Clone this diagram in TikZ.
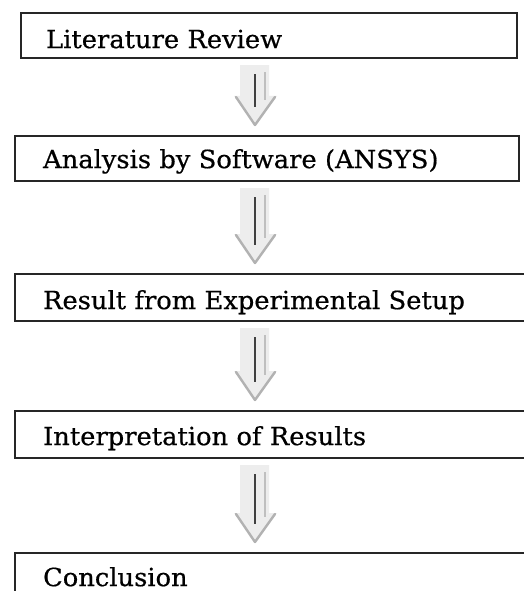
\documentclass[tikz,border=0pt]{standalone}
\usepackage{fontspec}
\setmainfont[FakeStretch=1.03,FakeBold=0.6]{DejaVu Serif}
\usetikzlibrary{calc}
\tikzset{
  boxstyle/.style={draw=black!85, line width=2.2pt, anchor=north west, align=left,
    inner ysep=0pt, font=\fontsize{25}{29}\selectfont},
  arrowfill/.style={fill=black!7},
  arrowedge/.style={draw=black!30, line width=2.4pt, line join=round, line cap=round},
  arrowline/.style={draw=black!75, line width=2.4pt},
  arrowshine/.style={draw=black!25, line width=1.4pt}
}
\newcommand{\blockarrow}[2]{%
  \coordinate (t) at ($(#1.south -| ax)+(0,-6pt)$);
  \coordinate (p) at ($(#2.north -| ax)+(0,10pt)$);
  \coordinate (h) at ($(p)+(0,29pt)$);
  \fill[arrowfill] ($(t)+(-15pt,0)$) -- ($(t)+(14pt,0)$) -- ($(h)+(14pt,0)$) -- ($(h)+(22pt,0)$)
     -- (p) -- ($(h)+(-21pt,0)$) -- ($(h)+(-15pt,0)$) -- cycle;
  \draw[arrowedge] ($(h)+(-19pt,-1pt)$) -- (p) -- ($(h)+(20pt,-1pt)$);
  \draw[arrowline] ($(t)+(0,-9pt)$) -- ($(p)+(0,18pt)$);
  \draw[arrowshine] ($(t)+(10pt,-7pt)$) -- ($(h)+(10pt,-4pt)$);
}
\begin{document}
\begin{tikzpicture}[x=1pt,y=-1pt]
  \useasboundingbox (0,0) rectangle (524,591);
  \clip (0,0) rectangle (524,591);
  \fill[white] (0,0) rectangle (524,591);
  \coordinate (ax) at (255,0);
  \node[boxstyle, inner xsep=25pt, text width=446pt, text height=35pt, text depth=10pt] (b1) at (20,12) {Literature Review};
  \node[boxstyle, inner xsep=28pt, text width=448pt, text height=32pt, text depth=13pt] (b2) at (14,135) {Analysis by Software (ANSYS)};
  \node[boxstyle, inner xsep=28pt, text width=462pt, text height=35pt, text depth=12pt] (b3) at (14,273) {Result from Experimental Setup};
  \node[boxstyle, inner xsep=28pt, text width=462pt, text height=34pt, text depth=13pt] (b4) at (14,410) {Interpretation of Results};
  \node[boxstyle, inner xsep=28pt, text width=462pt, text height=33pt, text depth=13pt] (b5) at (14,552) {Conclusion};
  \blockarrow{b1}{b2}
  \blockarrow{b2}{b3}
  \blockarrow{b3}{b4}
  \blockarrow{b4}{b5}
\end{tikzpicture}
\end{document}
